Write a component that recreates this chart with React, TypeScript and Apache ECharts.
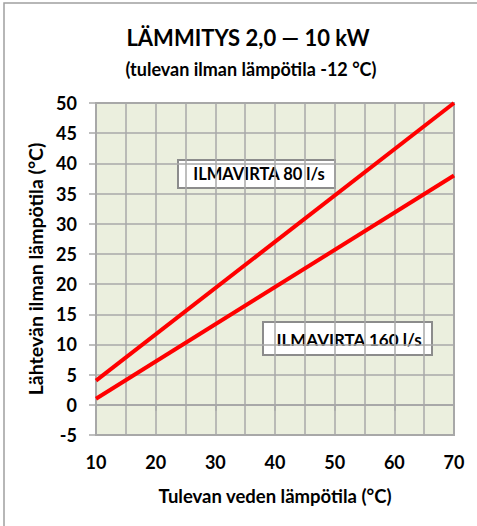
import React, { useEffect, useRef } from "react";
import * as echarts from "echarts";

const xValues = [10, 70];
const flow80 = [4, 50];
const flow160 = [1, 38];
const seriesNames = ["ILMAVIRTA 80 l/s", "ILMAVIRTA 160 l/s"];
const title = "LÄMMITYS 2,0 — 10 kW";
const subtitle = "(tulevan ilman lämpötila -12 °C)";
const xName = "Tulevan veden lämpötila (°C)";
const yName = "Lähtevän ilman lämpötila (°C)";

const FONT = "Lato, 'Open Sans', sans-serif";

export default function App() {
  const ref = useRef<HTMLDivElement>(null);
  useEffect(() => {
    if (!ref.current) return;
    const chart = echarts.init(ref.current, null, { renderer: "svg" });
    const gridColor = "#a8a8a8";
    chart.setOption({
      animation: false,
      backgroundColor: "#ffffff",
      textStyle: { fontFamily: FONT },
      title: [
        {
          text: title,
          left: 243,
          top: 21,
          textAlign: "center",
          textStyle: { fontFamily: FONT, fontWeight: "bold", fontSize: 22, color: "#000" },
        },
        {
          text: subtitle,
          left: 246,
          top: 55,
          textAlign: "center",
          textStyle: { fontFamily: FONT, fontWeight: "bold", fontSize: 18, color: "#000" },
        },
      ],
      grid: { left: 96, top: 103, width: 358, height: 332, show: true, backgroundColor: "#ebefde", borderColor: gridColor, borderWidth: 2 },
      xAxis: {
        type: "value",
        min: 10,
        max: 70,
        interval: 10,
        name: xName,
        nameLocation: "middle",
        nameGap: 51,
        nameTextStyle: { fontFamily: FONT, fontWeight: "bold", fontSize: 18.5, color: "#000" },
        axisLine: { show: true, lineStyle: { color: gridColor, width: 2 } },
        axisTick: { show: true, length: 6, lineStyle: { color: gridColor, width: 1.5 } },
        axisLabel: { fontFamily: FONT, fontWeight: "bold", fontSize: 18, color: "#000", margin: 18 },
        splitLine: { show: true, lineStyle: { color: gridColor, width: 1.5 } },
        minorTick: { show: false, splitNumber: 2 },
        minorSplitLine: { show: true, lineStyle: { color: gridColor, width: 1.5 } },
      },
      yAxis: {
        type: "value",
        min: -5,
        max: 50,
        interval: 5,
        name: yName,
        nameLocation: "middle",
        nameGap: 47,
        nameTextStyle: { fontFamily: FONT, fontWeight: "bold", fontSize: 19.5, color: "#000" },
        axisLine: { show: true, lineStyle: { color: gridColor, width: 2 } },
        axisTick: { show: true, length: 7, lineStyle: { color: gridColor, width: 1.5 } },
        axisLabel: { fontFamily: FONT, fontWeight: "bold", fontSize: 18, color: "#000", margin: 19 },
        splitLine: { show: true, lineStyle: { color: gridColor, width: 1.5 } },
      },
      series: [
        {
          name: seriesNames[0],
          type: "line",
          data: xValues.map((x, i) => [x, flow80[i]]),
          symbol: "none",
          lineStyle: { color: "#ff0000", width: 4 },
        },
        {
          name: seriesNames[1],
          type: "line",
          data: xValues.map((x, i) => [x, flow160[i]]),
          symbol: "none",
          lineStyle: { color: "#ff0000", width: 4 },
        },
      ],
      graphic: [
        {
          type: "rect",
          shape: { x: 4, y: 3, width: 600, height: 600 },
          style: { fill: "none", stroke: "#a0a0a0", lineWidth: 1.5 },
          silent: true,
        },
        {
          type: "group",
          left: 177,
          top: 159,
          children: [
            { type: "rect", shape: { x: 0, y: 0, width: 157, height: 28 }, style: { fill: "#ffffff", stroke: "#8c8c8c", lineWidth: 2 } },
            {
              type: "text",
              x: 81,
              y: 14,
              style: { text: seriesNames[0], fontFamily: FONT, fontWeight: "bold", fontSize: 16.5, fill: "#000", align: "center", verticalAlign: "middle" },
            },
          ],
        },
        {
          type: "group",
          left: 262,
          top: 321,
          children: [
            { type: "rect", shape: { x: 0, y: 0, width: 169, height: 33 }, style: { fill: "#ffffff", stroke: "#8c8c8c", lineWidth: 2 } },
            {
              type: "text",
              x: 86,
              y: 17,
              style: { text: seriesNames[1], fontFamily: FONT, fontWeight: "bold", fontSize: 17, fill: "#000", align: "center", verticalAlign: "middle" },
            },
          ],
        },
      ],
    });
    return () => chart.dispose();
  }, []);
  return <div ref={ref} style={{ position: "fixed", left: 0, top: 0, width: 477, height: 526 }} />;
}
